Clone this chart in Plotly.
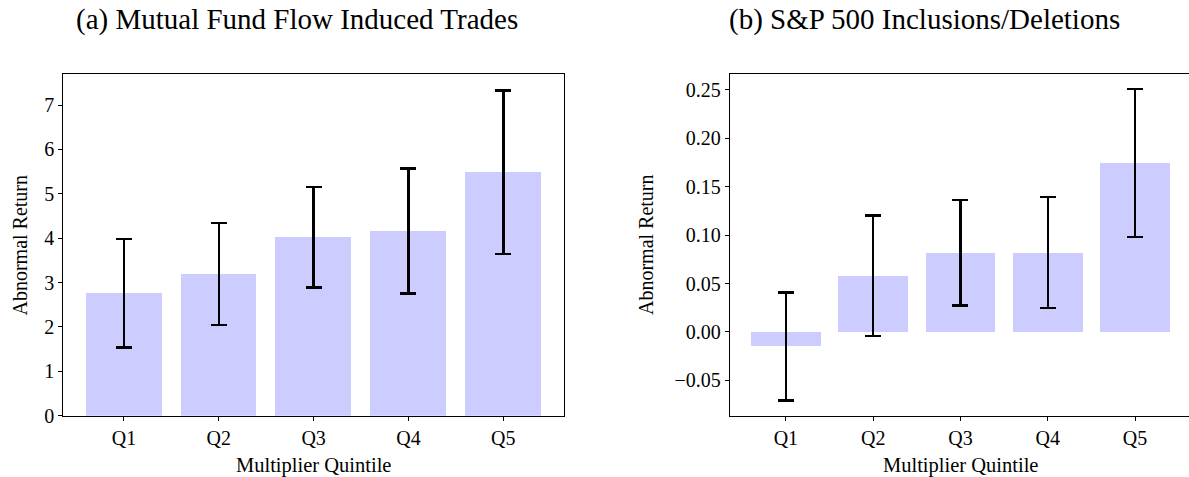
import plotly.graph_objects as go

# Quintile labels shared by both panels
quintiles = ["Q1", "Q2", "Q3", "Q4", "Q5"]

# Panel (a): mutual fund flow induced trades
mf_return = [2.76, 3.19, 4.02, 4.16, 5.49]
mf_error = [1.22, 1.15, 1.13, 1.41, 1.84]

# Panel (b): S&P 500 inclusions / deletions
sp_return = [-0.015, 0.058, 0.082, 0.082, 0.1746]
sp_error = [0.0557, 0.0623, 0.0545, 0.0573, 0.0762]

W, H = 1189, 477
FONT = "Liberation Serif"
BAR_COLOR = "#ccccff"

fig = go.Figure()

err_style = dict(type="data", color="black", thickness=2.4, width=8, visible=True)

fig.add_trace(go.Bar(
    x=quintiles, y=mf_return, width=0.8, marker=dict(color=BAR_COLOR, line=dict(width=0)),
    error_y=dict(array=mf_error, **err_style), xaxis="x", yaxis="y", showlegend=False,
))
fig.add_trace(go.Bar(
    x=quintiles, y=sp_return, width=0.8, marker=dict(color=BAR_COLOR, line=dict(width=0)),
    error_y=dict(array=sp_error, **err_style), xaxis="x2", yaxis="y2", showlegend=False,
))

def px_x(p):
    return p / W

def px_y(p):
    return 1 - p / H

top, bottom = 74, 415.7
ydom = [px_y(bottom), px_y(top)]

axis_common = dict(
    showline=True, linecolor="black", linewidth=1.3,
    ticks="outside", ticklen=4, tickwidth=1.1, tickcolor="black",
    showgrid=False, zeroline=False, automargin=False,
    tickfont=dict(family=FONT, size=20, color="black"),
)

fig.update_layout(
    template="none",
    width=W, height=H,
    margin=dict(l=0, r=0, t=0, b=0, pad=0),
    paper_bgcolor="white", plot_bgcolor="white",
    bargap=0,
    xaxis=dict(domain=[px_x(63.3), px_x(564)], range=[-0.64, 4.64], anchor="y",
               mirror=True, **axis_common),
    yaxis=dict(domain=ydom, range=[0, 7.7], anchor="x", mirror=True,
               tickvals=[0, 1, 2, 3, 4, 5, 6, 7], **axis_common),
    xaxis2=dict(domain=[px_x(730), 1.0], range=[-0.64, 4.618], anchor="y2",
                mirror=True, **axis_common),
    yaxis2=dict(domain=ydom, range=[-0.0865, 0.2665], anchor="x2", mirror=False,
                tickvals=[-0.05, 0.0, 0.05, 0.10, 0.15, 0.20, 0.25], tickformat=".2f",
                **axis_common),
)

def label(text, x, y, size, angle=0):
    fig.add_annotation(
        text=text, x=px_x(x), y=px_y(y), xref="paper", yref="paper",
        showarrow=False, textangle=angle, xanchor="center", yanchor="middle",
        font=dict(family=FONT, size=size, color="black"),
    )

# Panel titles
label("(a) Mutual Fund Flow Induced Trades", 297, 20, 29)
label("(b) S&amp;P 500 Inclusions/Deletions", 924, 20, 29)

# Axis titles
label("Abnormal Return", 19.5, 245, 20, angle=-90)
label("Abnormal Return", 646, 245, 20, angle=-90)
label("Multiplier Quintile", 313.5, 465, 20.5)
label("Multiplier Quintile", 960, 465, 20.5)

fig.write_html("out.html")
